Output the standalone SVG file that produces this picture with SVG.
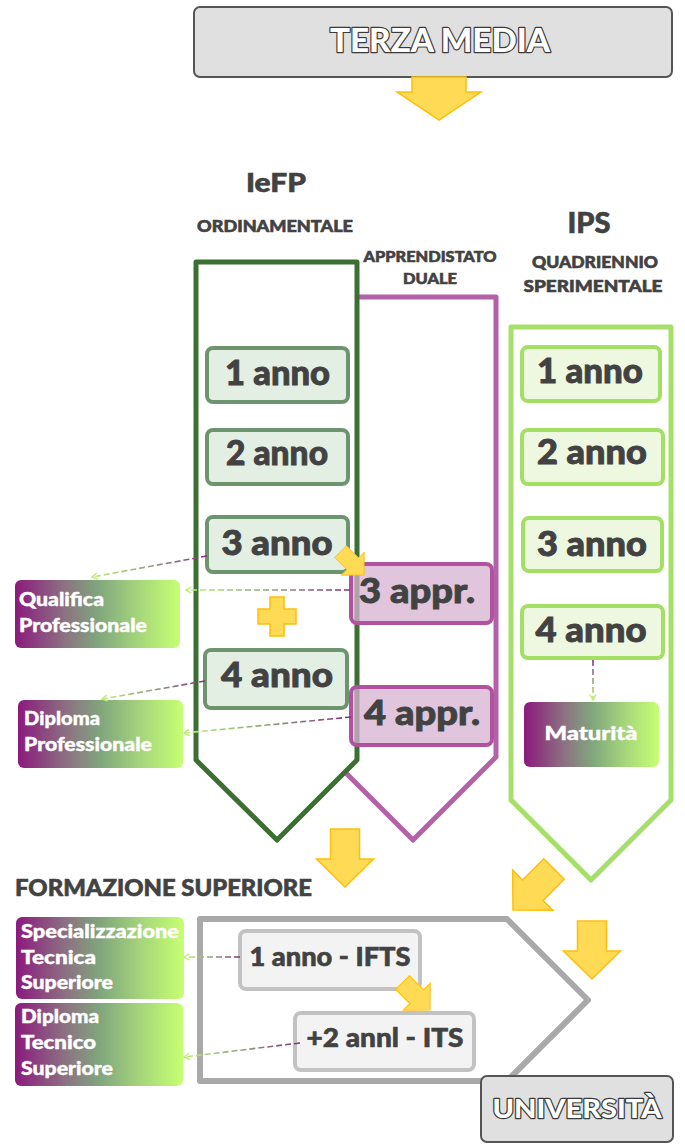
<svg xmlns="http://www.w3.org/2000/svg" width="685" height="1144" viewBox="0 0 685 1144">
<defs>
<style>
text{font-family:Lato,"Liberation Sans",sans-serif;font-weight:900;fill:#424242;stroke:#424242;stroke-width:0.6}
.big{font-size:35px;text-anchor:middle;stroke-width:0.9}
.mid{text-anchor:middle}
.wt{fill:#fff;stroke:#fff;stroke-width:0.4;font-size:18px}
.outl{fill:#fff;stroke:#3a3a3a;stroke-width:2.4;paint-order:stroke;stroke-linejoin:round;text-anchor:middle}
.arrow{fill:#ffda55;stroke:#ffbe0b;stroke-width:1.5}
.g1{fill:#e4efe3;stroke:#6d936f;stroke-width:4}
.g2{fill:#eef8e1;stroke:#a2df62;stroke-width:4}
.pa{fill:#d6b1d0;fill-opacity:.75;stroke:#b0529f;stroke-width:4}
.grey{fill:#f3f3f3;stroke:#c2c2c2;stroke-width:4}
.dash{fill:none;stroke-width:1.6;stroke-dasharray:6 3;marker-end:url(#ah)}
.top{fill:#e0e0e0;stroke:#555;stroke-width:2}
.pent{fill:#fff;stroke-width:5;stroke-linejoin:round}
</style>
<linearGradient id="bg" x1="0" y1="0" x2="1" y2="0">
<stop offset="0" stop-color="#8b1a7d"/>
<stop offset="0.3" stop-color="#8c7282"/>
<stop offset="0.5" stop-color="#80a57d"/>
<stop offset="0.75" stop-color="#a6d67b"/>
<stop offset="1" stop-color="#c6ff72"/>
</linearGradient>
<linearGradient id="dl" gradientUnits="userSpaceOnUse">
<stop offset="0" stop-color="#8b2a7f"/>
<stop offset="0.5" stop-color="#8fa27e"/>
<stop offset="1" stop-color="#bff274"/>
</linearGradient>
<linearGradient id="d1" href="#dl" x1="207" y1="556" x2="92" y2="577"/>
<linearGradient id="d2" href="#dl" x1="350" y1="590" x2="186" y2="590"/>
<linearGradient id="d3" href="#dl" x1="205" y1="681" x2="102" y2="699"/>
<linearGradient id="d4" href="#dl" x1="351" y1="717" x2="184" y2="733"/>
<linearGradient id="d5" href="#dl" x1="593" y1="660" x2="593" y2="700"/>
<linearGradient id="d6" href="#dl" x1="240" y1="957" x2="184" y2="957"/>
<linearGradient id="d7" href="#dl" x1="300" y1="1043" x2="184" y2="1057"/>
<marker id="ah" viewBox="0 0 10 10" refX="8" refY="5" markerWidth="9" markerHeight="9" markerUnits="userSpaceOnUse" orient="auto">
<path d="M2,1.5 L8,5 L2,8.5" fill="none" stroke="#bdf072" stroke-width="1.6"/>
</marker>
<path id="arr" d="M-14.5,-58 H14.5 V-28 H28.5 L0,0 L-28.5,-28 H-14.5 Z"/>
</defs>

<g id="terza-media">
<rect class="top" x="194" y="7" width="478" height="70" rx="6"/>
<text class="outl" x="440" y="52" font-size="33" textLength="220" lengthAdjust="spacingAndGlyphs">TERZA MEDIA</text>
</g>

<g id="headers">
<text class="mid" x="276" y="192" font-size="26" textLength="60" lengthAdjust="spacingAndGlyphs">IeFP</text>
<text class="mid" x="275" y="232" font-size="16.5" textLength="156" lengthAdjust="spacingAndGlyphs">ORDINAMENTALE</text>
<text class="mid" x="430" y="262" font-size="15" textLength="133" lengthAdjust="spacingAndGlyphs">APPRENDISTATO</text>
<text class="mid" x="430" y="284" font-size="15" textLength="54" lengthAdjust="spacingAndGlyphs">DUALE</text>
<text class="mid" x="589" y="233" font-size="28" textLength="43" lengthAdjust="spacingAndGlyphs">IPS</text>
<text class="mid" x="595" y="268" font-size="16" textLength="126" lengthAdjust="spacingAndGlyphs">QUADRIENNIO</text>
<text class="mid" x="593" y="292" font-size="16" textLength="139" lengthAdjust="spacingAndGlyphs">SPERIMENTALE</text>
<text x="15" y="896" font-size="22" textLength="297" lengthAdjust="spacingAndGlyphs">FORMAZIONE SUPERIORE</text>
</g>

<g id="apprendistato-column">
<path class="pent" stroke="#b462a8" d="M330,297 H496 V757 L413,840 L330,757 Z"/>
</g>
<g id="iefp-column">
<path class="pent" stroke="#3b7032" d="M196,262 H357 V760 L277,840 L196,760 Z"/>
</g>
<g id="ips-column">
<path class="pent" stroke="#a6e06a" d="M511,327 H671 V800 L591,880 L511,800 Z"/>
</g>
<g id="formazione-superiore">
<path fill="#fff" stroke="#a9a9a9" stroke-width="6" stroke-linejoin="round" d="M200,919 H507 L588,1000 L507,1081 H200 Z"/>
</g>

<g id="iefp-1"><rect class="g1" x="207" y="348" width="141" height="54" rx="6"/><text class="big" x="277.5" y="385" textLength="105" lengthAdjust="spacingAndGlyphs">1 anno</text></g>
<g id="iefp-2"><rect class="g1" x="207" y="430" width="141" height="54" rx="6"/><text class="big" x="277" y="465" textLength="102" lengthAdjust="spacingAndGlyphs">2 anno</text></g>
<g id="iefp-3"><rect class="g1" x="207" y="517" width="141" height="55" rx="6"/><text class="big" x="277" y="555" textLength="111" lengthAdjust="spacingAndGlyphs">3 anno</text></g>
<g id="iefp-4"><rect class="g1" x="205" y="650" width="142" height="58" rx="6"/><text class="big" x="277" y="687" textLength="112" lengthAdjust="spacingAndGlyphs">4 anno</text></g>

<g id="plus">
<path class="arrow" d="M270,597 H284 V609 H296 V624 H284 V636 H270 V624 H258 V609 H270 Z"/>
</g>

<g id="appr-3"><rect class="pa" x="351" y="564" width="141" height="59" rx="6"/><text class="big" x="417" y="603" font-size="32" textLength="116" lengthAdjust="spacingAndGlyphs">3 appr.</text></g>
<g id="appr-4"><rect class="pa" x="351" y="687" width="141" height="58" rx="6"/><text class="big" x="422" y="725" font-size="32" textLength="116" lengthAdjust="spacingAndGlyphs">4 appr.</text></g>

<g id="ips-1"><rect class="g2" x="522" y="347" width="138" height="54" rx="6"/><text class="big" x="590" y="383" textLength="106" lengthAdjust="spacingAndGlyphs">1 anno</text></g>
<g id="ips-2"><rect class="g2" x="522" y="430" width="141" height="54" rx="6"/><text class="big" x="592" y="464" textLength="110" lengthAdjust="spacingAndGlyphs">2 anno</text></g>
<g id="ips-3"><rect class="g2" x="523" y="518" width="139" height="53" rx="6"/><text class="big" x="592" y="556" textLength="110" lengthAdjust="spacingAndGlyphs">3 anno</text></g>
<g id="ips-4"><rect class="g2" x="522" y="606" width="141" height="52" rx="6"/><text class="big" x="591" y="642" textLength="111" lengthAdjust="spacingAndGlyphs">4 anno</text></g>

<g id="qualifica"><rect fill="url(#bg)" x="15" y="580" width="165" height="68" rx="6"/>
<text class="wt" x="19" y="606" textLength="85" lengthAdjust="spacingAndGlyphs">Qualifica</text>
<text class="wt" x="19" y="632" textLength="128" lengthAdjust="spacingAndGlyphs">Professionale</text></g>
<g id="diploma-professionale"><rect fill="url(#bg)" x="18" y="700" width="165" height="68" rx="6"/>
<text class="wt" x="24" y="725" textLength="76" lengthAdjust="spacingAndGlyphs">Diploma</text>
<text class="wt" x="24" y="751" textLength="128" lengthAdjust="spacingAndGlyphs">Professionale</text></g>
<g id="maturita"><rect fill="url(#bg)" x="524" y="702" width="135" height="65" rx="6"/>
<text class="wt mid" x="591" y="740" font-size="20" textLength="93" lengthAdjust="spacingAndGlyphs">Maturità</text></g>

<g id="ifts"><rect class="grey" x="240" y="931" width="180" height="58" rx="6"/><text class="mid" x="330" y="966" font-size="26" textLength="161" lengthAdjust="spacingAndGlyphs">1 anno - IFTS</text></g>
<g id="its"><rect class="grey" x="295" y="1013" width="179" height="57" rx="6"/><text class="mid" x="385" y="1047" font-size="26" textLength="157" lengthAdjust="spacingAndGlyphs">+2 annl - ITS</text></g>

<g id="specializzazione"><rect fill="url(#bg)" x="16" y="917" width="168" height="82" rx="6"/>
<text class="wt" x="21" y="938" textLength="158" lengthAdjust="spacingAndGlyphs">Specializzazione</text>
<text class="wt" x="21" y="964" textLength="75" lengthAdjust="spacingAndGlyphs">Tecnica</text>
<text class="wt" x="21" y="989" textLength="92" lengthAdjust="spacingAndGlyphs">Superiore</text></g>
<g id="diploma-tecnico"><rect fill="url(#bg)" x="15" y="1003" width="168" height="83" rx="6"/>
<text class="wt" x="21" y="1023" textLength="78" lengthAdjust="spacingAndGlyphs">Diploma</text>
<text class="wt" x="21" y="1049" textLength="75" lengthAdjust="spacingAndGlyphs">Tecnico</text>
<text class="wt" x="21" y="1075" textLength="92" lengthAdjust="spacingAndGlyphs">Superiore</text></g>

<g id="universita">
<rect class="top" x="481" y="1076" width="192" height="66" rx="6"/>
<text class="outl" x="577" y="1118" font-size="27" textLength="169" lengthAdjust="spacingAndGlyphs">UNIVERSITÀ</text>
</g>

<g id="connectors">
<path class="dash" stroke="url(#d1)" d="M207,556 L92,577"/>
<path class="dash" stroke="url(#d2)" d="M350,590 L186,590"/>
<path class="dash" stroke="url(#d3)" d="M205,681 L102,699"/>
<path class="dash" stroke="url(#d4)" d="M351,717 L184,733"/>
<path class="dash" stroke="url(#d5)" d="M593,660 L593,700"/>
<path class="dash" stroke="url(#d6)" d="M240,957 L184,957"/>
<path class="dash" stroke="url(#d7)" d="M300,1043 L184,1057"/>
</g>

<g id="flow-arrows">
<path class="arrow" d="M412,77 H466 V92 H481 L439,120 L397,92 H412 Z"/>
<use class="arrow" href="#arr" transform="translate(364,575) rotate(-45) scale(0.57)"/>
<use class="arrow" href="#arr" transform="translate(345,887)"/>
<use class="arrow" href="#arr" transform="translate(513,910) rotate(45)"/>
<use class="arrow" href="#arr" transform="translate(592,979)"/>
<use class="arrow" href="#arr" transform="translate(430,1010) rotate(-45) scale(0.67)"/>
</g>
</svg>
